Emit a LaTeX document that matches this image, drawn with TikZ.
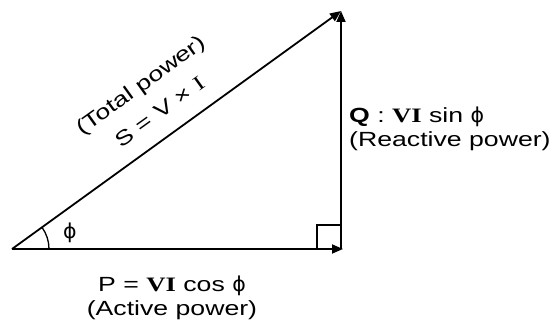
\documentclass[tikz,border=0pt]{standalone}
\usepackage{fontspec}
\setmainfont[FakeStretch=1.3]{Liberation Sans}
\newfontfamily\serifvi[FakeStretch=1.3]{Liberation Serif}
\newfontfamily\phifont{DejaVu Sans}
\usetikzlibrary{arrows.meta}
\begin{document}
\begin{tikzpicture}[x=1pt,y=1pt,
  vec/.style={line width=1.8pt,-{Triangle[length=11pt,width=9pt]}},
  thin box/.style={line width=1.3pt},
  lbl/.style={font=\fontsize{20.5}{24}\selectfont, inner sep=0pt},
]
\useasboundingbox (0,0) rectangle (557,327);
\coordinate (O) at (12,78);
\coordinate (A) at (341,78);
\coordinate (B) at (341,316);
% vectors
\draw[vec] (O) -- ([xshift=2pt]A);
\draw[vec] (A) -- (B);
\draw[vec] (O) -- (B);
% right angle mark
\draw[thin box] (317,78) -- (317,102) -- (341,102);
% angle arc
\draw[thin box] ([shift={(0:37)}]O) arc[start angle=0,end angle=35.65,radius=37];
\node[lbl] (phi) at (70,94) {{\phifont ϕ}};
% labels
\node[lbl, anchor=base] (P) at (172,36) {P = {\serifvi\bfseries VI} cos {\phifont ϕ}};
\node[lbl, anchor=base] (Pa) at (172,12) {(Active power)};
\node[lbl, anchor=base west] (Q) at (349,204) {\textbf{Q} : {\serifvi\bfseries VI} sin {\phifont ϕ}};
\node[lbl, anchor=base west] (Qr) at (349,180) {(Reactive power)};
\node[lbl, rotate=35.65, align=center, font=\fontsize{20.5}{33}\selectfont] (S) at (150,229)
  {(Total power)\\S = V × {\serifvi I}};
\end{tikzpicture}
\end{document}
